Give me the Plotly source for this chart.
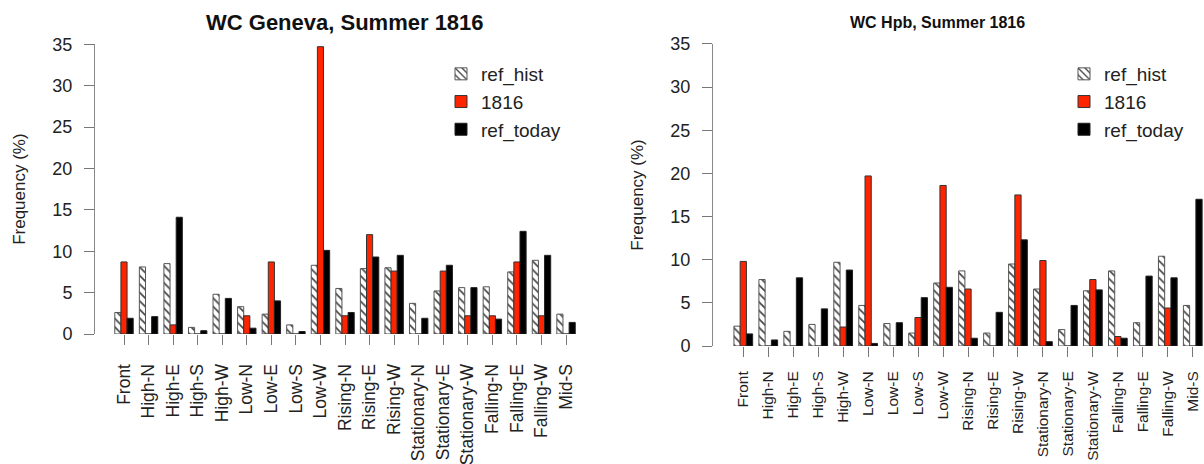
import plotly.graph_objects as go

# Weather-type categories shared by both panels
categories = ["Front", "High-N", "High-E", "High-S", "High-W", "Low-N", "Low-E",
              "Low-S", "Low-W", "Rising-N", "Rising-E", "Rising-W", "Stationary-N",
              "Stationary-E", "Stationary-W", "Falling-N", "Falling-E", "Falling-W",
              "Mid-S"]

# Geneva panel frequencies (%)
geneva_ref_hist = [2.6, 8.1, 8.5, 0.8, 4.8, 3.3, 2.4, 1.1, 8.3, 5.5, 7.9, 8.0, 3.7,
                   5.2, 5.6, 5.7, 7.5, 8.9, 2.4]
geneva_1816 = [8.7, 0.0, 1.1, 0.0, 0.0, 2.2, 8.7, 0.0, 34.7, 2.2, 12.0, 7.6, 0.0,
               7.6, 2.2, 2.2, 8.7, 2.2, 0.0]
geneva_ref_today = [1.9, 2.1, 14.1, 0.4, 4.3, 0.7, 4.0, 0.3, 10.1, 2.6, 9.3, 9.5, 1.9,
                    8.3, 5.6, 1.8, 12.4, 9.5, 1.4]

# Hpb panel frequencies (%)
hpb_ref_hist = [2.3, 7.7, 1.7, 2.5, 9.7, 4.7, 2.6, 1.5, 7.3, 8.7, 1.5, 9.5, 6.6,
                1.9, 6.4, 8.7, 2.7, 10.4, 4.7]
hpb_1816 = [9.8, 0.0, 0.0, 0.0, 2.2, 19.7, 0.0, 3.3, 18.6, 6.6, 0.0, 17.5, 9.9,
            0.0, 7.7, 1.1, 0.0, 4.4, 0.0]
hpb_ref_today = [1.4, 0.7, 7.9, 4.3, 8.8, 0.3, 2.7, 5.6, 6.8, 0.9, 3.9, 12.3, 0.5,
                 4.7, 6.5, 0.9, 8.1, 7.9, 17.0]

y_ticks = [0, 5, 10, 15, 20, 25, 30, 35]

FONT = "Liberation Sans, Arial, Helvetica, sans-serif"
RED = "#FF2400"
W, H = 1204, 464


def px_x(p):
    return p / W


def px_y(p):
    return (H - p) / H


fig = go.Figure()


def add_panel(hist, y1816, today, xa, ya, legend):
    fig.add_trace(go.Bar(
        x=categories, y=hist, name="ref_hist", xaxis=xa, yaxis=ya, legend=legend,
        marker=dict(color="white", line=dict(color="#555555", width=1),
                    pattern=dict(shape="\\", fgcolor="#444444", bgcolor="white",
                                 size=6, solidity=0.28)),
    ))
    fig.add_trace(go.Bar(
        x=categories, y=y1816, name="1816", xaxis=xa, yaxis=ya, legend=legend,
        marker=dict(color=RED, line=dict(color="#333333", width=1)),
    ))
    fig.add_trace(go.Bar(
        x=categories, y=today, name="ref_today", xaxis=xa, yaxis=ya, legend=legend,
        marker=dict(color="black", line=dict(color="#222222", width=1)),
    ))


add_panel(geneva_ref_hist, geneva_1816, geneva_ref_today, "x", "y", "legend")
add_panel(hpb_ref_hist, hpb_1816, hpb_ref_today, "x2", "y2", "legend2")

xaxis_common = dict(
    type="category", showgrid=False, zeroline=False, showline=False,
    automargin=False,
    ticks="outside", ticklen=10, tickcolor="#777777", tickwidth=1,
    tickangle=-90, ticklabelstandoff=12,
)
yaxis_common = dict(
    range=[0, 35], tickvals=y_ticks, showgrid=False, zeroline=False,
    automargin=False,
    showline=True, linecolor="#888888", linewidth=1,
    ticks="outside", ticklen=10, tickcolor="#777777", tickwidth=1,
    ticklabelstandoff=8,
    tickfont=dict(family=FONT, size=18, color="#222222"),
    title=dict(text="Frequency (%)", font=dict(family=FONT, size=17, color="#222222"),
               standoff=22),
)

legend_common = dict(
    bgcolor="rgba(0,0,0,0)", borderwidth=0, yanchor="top", xanchor="left",
    font=dict(family=FONT, size=19, color="#222222"), itemclick=False,
)

fig.update_layout(
    template="none",
    width=W, height=H, margin=dict(l=0, r=0, t=0, b=0, autoexpand=False),
    paper_bgcolor="white", plot_bgcolor="white",
    barmode="group", bargap=0.25, bargroupgap=0,
    xaxis=dict(xaxis_common, domain=[px_x(95), px_x(596)], range=[-1.181, 19.22],
               anchor="y", tickfont=dict(family=FONT, size=17.5, color="#222222")),
    yaxis=dict(yaxis_common, domain=[px_y(334), px_y(44.2)], anchor="x"),
    xaxis2=dict(xaxis_common, domain=[px_x(713), 1.0], range=[-1.213, 18.45],
                anchor="y2", ticklabelstandoff=8,
                tickfont=dict(family=FONT, size=15.5, color="#222222")),
    yaxis2=dict(yaxis_common, domain=[px_y(346), px_y(43.9)], anchor="x2"),
    legend=dict(legend_common, x=px_x(441), y=px_y(55)),
    legend2=dict(legend_common, x=px_x(1064), y=px_y(55)),
    annotations=[
        dict(text="<b>WC Geneva, Summer 1816</b>", x=px_x(345), y=px_y(22),
             xref="paper", yref="paper", xanchor="center", yanchor="middle",
             showarrow=False, font=dict(family=FONT, size=22, color="#111111")),
        dict(text="<b>WC Hpb, Summer 1816</b>", x=px_x(937), y=px_y(22),
             xref="paper", yref="paper", xanchor="center", yanchor="middle",
             showarrow=False, font=dict(family=FONT, size=16, color="#111111")),
    ],
)

fig.write_html("out.html")
